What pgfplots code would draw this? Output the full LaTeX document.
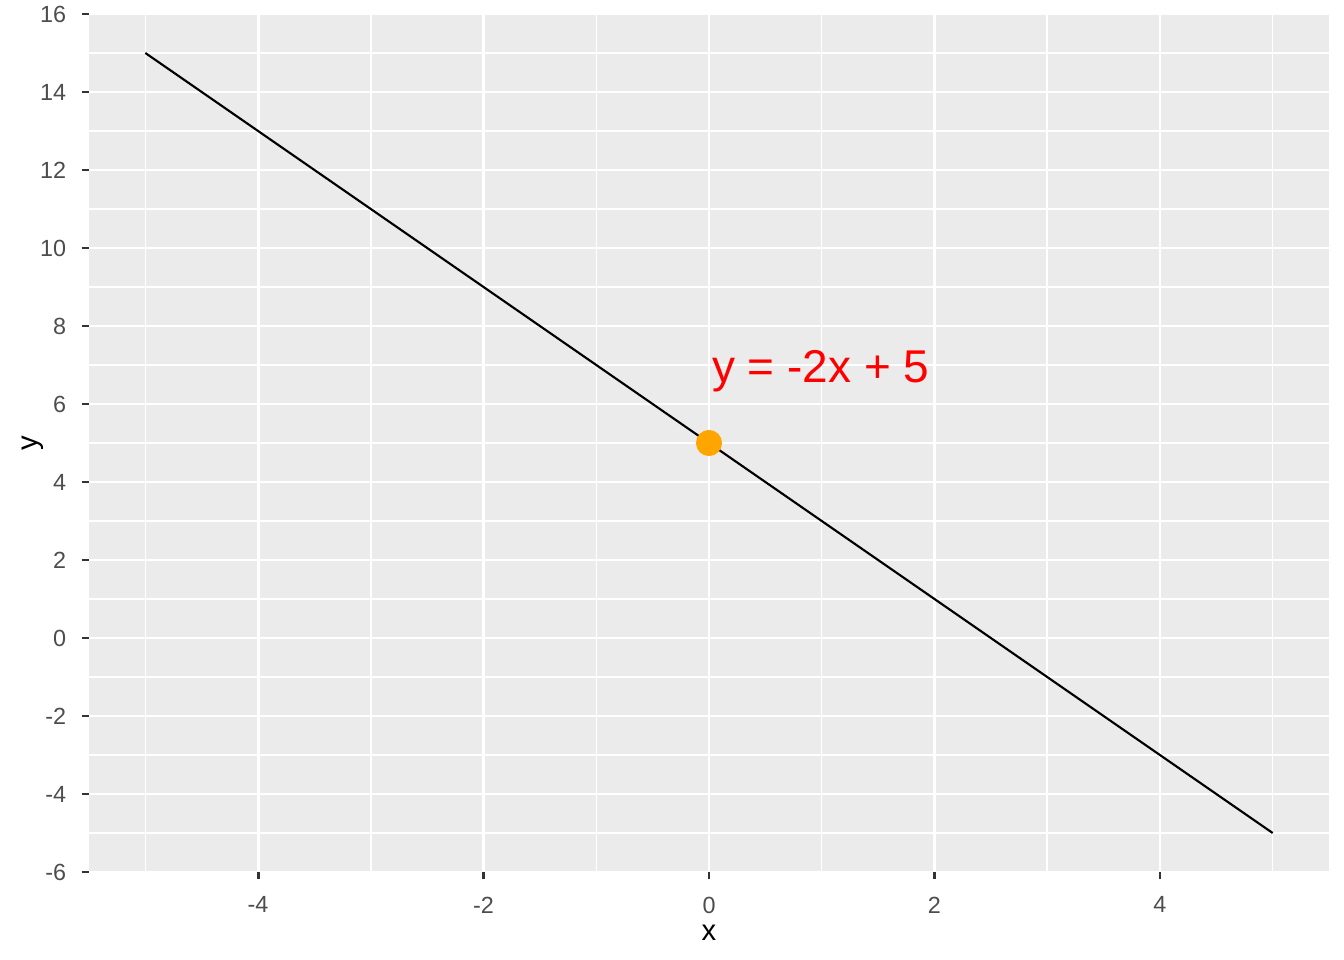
\documentclass[border=0pt]{standalone}
\usepackage{fontspec}
\setmainfont{Liberation Sans}
\usepackage{pgfplots}
\pgfplotsset{compat=1.18}
\definecolor{panelbg}{HTML}{EBEBEB}
\definecolor{tickgrey}{HTML}{333333}
\definecolor{labgrey}{HTML}{4D4D4D}
\definecolor{ggorange}{HTML}{FFA500}
\definecolor{ggred}{HTML}{FF0000}
\begin{document}
\begin{tikzpicture}
\begin{axis}[
  at={(0,0)}, anchor=south west,
  scale only axis, width=465bp, height=321.75bp,
  xmin=-5.5, xmax=5.5, ymin=-6, ymax=16,
  xtick={-4,-2,0,2,4}, ytick={-6,-4,...,16},
  minor xtick={-5,-3,-1,1,3,5}, minor ytick={-5,-3,...,15},
  axis background/.style={fill=panelbg},
  axis x line*=bottom, axis y line*=left,
  axis line style={draw=none},
  grid=both,
  major grid style={white, line width=1.07pt},
  minor grid style={white, line width=0.53pt},
  tick align=outside,
  major tick length=2.75pt, minor tick length=0pt,
  major tick style={tickgrey, line width=1.07pt},
  minor tick style={draw=none},
  /pgf/number format/assume math mode=true,
  tick label style={font=\fontsize{8.8}{10}\selectfont, text=labgrey, inner sep=0pt},
  xticklabel style={anchor=north, yshift=-6.4bp},
  yticklabel style={anchor=east, xshift=-5.6bp},
  xlabel={x}, ylabel={y},
  label style={font=\fontsize{11}{13}\selectfont, inner sep=0pt},
  xlabel style={at={([yshift=-25.5bp]axis description cs:0.5,0)}, anchor=base},
  ylabel style={at={([xshift=-19.4bp]axis description cs:0,0.5)}, anchor=base},
  clip=false,
]
\addplot[black, line width=0.8pt] coordinates {(-5,15) (5,-5)};
\addplot[only marks, mark=*, mark size=4.7pt, color=ggorange, mark options={draw=ggorange, fill=ggorange}] coordinates {(0,5)};
\node[anchor=base west, inner sep=0pt, xshift=1bp, text=ggred, font=\fontsize{17.3}{20}\selectfont] at (axis cs:0,6.55) {y = -2x + 5};
\end{axis}
\pgfresetboundingbox
\path[use as bounding box] (-33.375bp,-33bp) rectangle (470.625bp,327bp);
\end{tikzpicture}
\end{document}
